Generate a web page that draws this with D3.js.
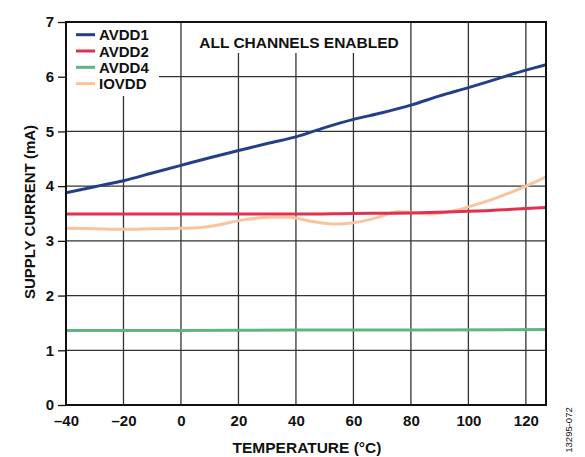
<!DOCTYPE html>
<html><head><meta charset="utf-8">
<script src="https://cdn.jsdelivr.net/npm/d3@7"></script>
<style>body{margin:0;background:#fff}svg{display:block;font-family:"Liberation Sans",Arial,sans-serif}</style>
</head><body><svg id="c" width="585" height="457"></svg>
<script>
const xTicks = [-40,-20,0,20,40,60,80,100,120];
const yTicks = [0,1,2,3,4,5,6,7];
const avdd1T = [-40,-30,-20,-10,0,10,20,30,40,50,60,70,80,90,100,110,120,127];
const avdd1V = [3.88,3.99,4.1,4.24,4.38,4.52,4.65,4.78,4.9,5.07,5.22,5.34,5.48,5.65,5.8,5.96,6.12,6.22];
const avdd2T = [-40,0,40,60,80,100,127];
const avdd2V = [3.49,3.49,3.49,3.5,3.51,3.54,3.61];
const avdd4T = [-40,0,40,80,127];
const avdd4V = [1.36,1.36,1.37,1.37,1.38];
const iovddT = [-40,-30,-20,-10,0,6,13,20,30,38,45,52,60,68,75,82,88,95,100,110,120,127];
const iovddV = [3.23,3.22,3.21,3.22,3.23,3.24,3.29,3.37,3.43,3.43,3.36,3.31,3.33,3.42,3.53,3.51,3.49,3.55,3.62,3.79,4.0,4.17];
const names = ["AVDD1","AVDD2","AVDD4","IOVDD"];
const colors = ["#243f87","#e0314f","#5db584","#f9c39d"];

const svg = d3.select("#c");
const L=66,R=546,T=22,B=405;
const x = d3.scaleLinear().domain([-40,127]).range([L,R]);
const y = d3.scaleLinear().domain([0,7]).range([B,T]);
const FF = "'Liberation Sans',Arial,sans-serif";

// grid
const g = svg.append("g");
g.selectAll(".vx").data(xTicks.filter(d=>d>-40)).join("line")
  .attr("x1",d=>x(d)).attr("x2",d=>x(d)).attr("y1",T).attr("y2",B)
  .attr("stroke","#333").attr("stroke-width",1.3);
g.selectAll(".hy").data(yTicks.filter(d=>d>0&&d<7)).join("line")
  .attr("x1",L).attr("x2",R).attr("y1",d=>y(d)).attr("y2",d=>y(d))
  .attr("stroke","#333").attr("stroke-width",1.3);

// axes
const xa = svg.append("g").attr("transform",`translate(0,${B})`)
  .call(d3.axisBottom(x).tickValues(xTicks).tickSize(0).tickPadding(7).tickFormat(d=>d<0?"\u2013"+Math.abs(d):d));
const ya = svg.append("g").attr("transform",`translate(${L},0)`)
  .call(d3.axisLeft(y).tickValues(yTicks).tickFormat(d3.format("d")).tickSize(8).tickPadding(4));
[xa,ya].forEach(a=>{a.select(".domain").remove();a.selectAll("text").attr("font-size",15).attr("font-weight","bold").attr("fill","#111").attr("font-family",FF);a.selectAll("line").attr("stroke","#111").attr("stroke-width",1.3);});
xa.selectAll("text").attr("dy","0.9em");

// lines
const series = [[avdd1T,avdd1V],[avdd2T,avdd2V],[avdd4T,avdd4V],[iovddT,iovddV]];
const lineM = d3.line().x(d=>x(d[0])).y(d=>y(d[1])).curve(d3.curveMonotoneX);
const lineC = d3.line().x(d=>x(d[0])).y(d=>y(d[1])).curve(d3.curveCatmullRom.alpha(0.5));
const drawOrder=[2,3,1,0];
svg.append("defs").append("clipPath").attr("id","cp").append("rect").attr("x",L).attr("y",T).attr("width",R-L).attr("height",B-T);
drawOrder.forEach(i=>{
  const [t,v]=series[i];
  svg.append("path").datum(t.map((d,k)=>[d,v[k]])).attr("d",i===3?lineC:lineM)
    .attr("fill","none").attr("stroke",colors[i]).attr("stroke-width",3).attr("clip-path","url(#cp)");
});

// legend box
svg.append("rect").attr("x",L+1).attr("y",T+1).attr("width",92).attr("height",73).attr("fill","#fff");
names.forEach((n,i)=>{
  const yy = 34.7 + i*16.3;
  svg.append("line").attr("x1",76).attr("x2",95).attr("y1",yy).attr("y2",yy).attr("stroke",colors[i]).attr("stroke-width",3);
  svg.append("text").attr("x",99).attr("y",yy+5.5).text(n).attr("font-size",15).attr("font-weight","bold").attr("fill","#111");
});
// annotation
svg.append("rect").attr("x",188).attr("y",T+1).attr("width",220).attr("height",30).attr("fill","#fff");
svg.append("text").attr("x",299).attr("y",47.5).attr("text-anchor","middle").text("ALL CHANNELS ENABLED")
  .attr("font-size",15.5).attr("font-weight","bold").attr("fill","#111");

// frame
svg.append("rect").attr("x",L).attr("y",T).attr("width",R-L).attr("height",B-T).attr("fill","none").attr("stroke","#111").attr("stroke-width",2);

// titles
svg.append("text").attr("x",307).attr("y",453).attr("text-anchor","middle").text("TEMPERATURE (°C)")
  .attr("font-size",15.5).attr("font-weight","bold").attr("fill","#111");
svg.append("text").attr("transform","translate(35,212) rotate(-90)").attr("text-anchor","middle").text("SUPPLY CURRENT (mA)")
  .attr("font-size",15).attr("font-weight","bold").attr("fill","#111");
svg.append("text").attr("transform","translate(572,430) rotate(-90)").attr("text-anchor","middle").text("13295-072")
  .attr("font-size",9.5).attr("fill","#111");
</script></body></html>
